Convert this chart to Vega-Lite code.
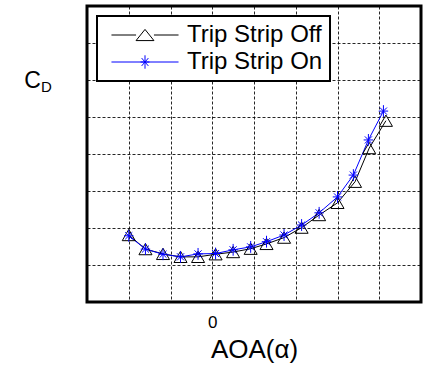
{
  "$schema": "https://vega.github.io/schema/vega-lite/v6.json",
  "width": 334,
  "height": 296,
  "autosize": {"type": "none"},
  "padding": {"left": 87, "top": 6, "right": 3, "bottom": 65},
  "config": {
    "view": {"stroke": "black", "strokeWidth": 3},
    "font": "Liberation Sans",
    "axis": {"gridColor": "#000000", "gridDash": [3, 2], "gridWidth": 1, "gridOpacity": 0.85, "domain": false, "tickSize": 0, "ticks": false}
  },
  "data": {
    "values": [
      {"series": "Trip Strip Off", "aoa": -10, "cd": 1.81},
      {"series": "Trip Strip Off", "aoa": -8, "cd": 1.43},
      {"series": "Trip Strip Off", "aoa": -5.9, "cd": 1.3},
      {"series": "Trip Strip Off", "aoa": -3.8, "cd": 1.22},
      {"series": "Trip Strip Off", "aoa": -1.7, "cd": 1.22},
      {"series": "Trip Strip Off", "aoa": 0.4, "cd": 1.29},
      {"series": "Trip Strip Off", "aoa": 2.5, "cd": 1.35},
      {"series": "Trip Strip Off", "aoa": 4.6, "cd": 1.44},
      {"series": "Trip Strip Off", "aoa": 6.5, "cd": 1.57},
      {"series": "Trip Strip Off", "aoa": 8.6, "cd": 1.74},
      {"series": "Trip Strip Off", "aoa": 10.7, "cd": 2.01},
      {"series": "Trip Strip Off", "aoa": 12.8, "cd": 2.35},
      {"series": "Trip Strip Off", "aoa": 15.0, "cd": 2.68},
      {"series": "Trip Strip Off", "aoa": 17.1, "cd": 3.25},
      {"series": "Trip Strip Off", "aoa": 18.8, "cd": 4.16},
      {"series": "Trip Strip Off", "aoa": 20.8, "cd": 4.9},
      {"series": "Trip Strip On", "aoa": -10, "cd": 1.79},
      {"series": "Trip Strip On", "aoa": -8, "cd": 1.43},
      {"series": "Trip Strip On", "aoa": -5.9, "cd": 1.29},
      {"series": "Trip Strip On", "aoa": -3.8, "cd": 1.22},
      {"series": "Trip Strip On", "aoa": -1.7, "cd": 1.3},
      {"series": "Trip Strip On", "aoa": 0.4, "cd": 1.31},
      {"series": "Trip Strip On", "aoa": 2.5, "cd": 1.41},
      {"series": "Trip Strip On", "aoa": 4.6, "cd": 1.49},
      {"series": "Trip Strip On", "aoa": 6.5, "cd": 1.63},
      {"series": "Trip Strip On", "aoa": 8.6, "cd": 1.81},
      {"series": "Trip Strip On", "aoa": 10.7, "cd": 2.08},
      {"series": "Trip Strip On", "aoa": 12.8, "cd": 2.41},
      {"series": "Trip Strip On", "aoa": 15.0, "cd": 2.84},
      {"series": "Trip Strip On", "aoa": 16.9, "cd": 3.43},
      {"series": "Trip Strip On", "aoa": 18.7, "cd": 4.38},
      {"series": "Trip Strip On", "aoa": 20.5, "cd": 5.16}
    ]
  },
  "layer": [
    {
      "mark": {"type": "line", "strokeWidth": 1},
      "encoding": {
        "x": {"field": "aoa", "type": "quantitative", "scale": {"domain": [-15, 25], "nice": false, "zero": false},
          "axis": {"values": [-10, -5, 0, 5, 10, 15, 20], "grid": true, "labelExpr": "datum.value === 0 ? '0' : ''", "labelFontSize": 17, "labelColor": "black", "labelBaseline": "alphabetic", "labelPadding": 25,
            "title": "AOA(α)", "titleFontSize": 26, "titleFontWeight": "normal", "titleColor": "black", "titleBaseline": "alphabetic", "titleY": 55}},
        "y": {"field": "cd", "type": "quantitative", "scale": {"domain": [0, 8], "nice": false, "zero": false},
          "axis": {"values": [1, 2, 3, 4, 5, 6, 7], "grid": true, "labels": false, "title": "C", "titleAngle": 0, "titleFontSize": 23, "titleFontWeight": "normal", "titleColor": "black", "titleAlign": "center", "titleBaseline": "alphabetic", "titleX": -55, "titleY": 81}},
        "color": {"field": "series", "type": "nominal", "scale": {"domain": ["Trip Strip Off", "Trip Strip On"], "range": ["#000000", "#0000ff"]},
          "legend": {"title": null, "orient": "top-left", "offset": 10, "fillColor": "white", "strokeColor": "black", "padding": 7, "rowPadding": 3, "labelFontSize": 24, "labelColor": "black", "labelFont": "Liberation Sans", "symbolSize": 500, "symbolStrokeWidth": 1, "symbolFillColor": "transparent", "symbolOffset": 29, "labelOffset": 30,
            "encode": {
              "symbols": {"update": {"shape": {"signal": "datum.value === 'Trip Strip Off' ? 'M-3,0L-0.8,0M0.8,0L3,0M0,-0.5L-0.8,0.5L0.8,0.5Z' : 'M-3,0L3,0M0,-0.6L0,0.6M-0.4,0L0.4,0M-0.3,-0.35L0.3,0.35M-0.3,0.35L0.3,-0.35'"}, "fill": {"value": "transparent"}, "strokeWidth": {"value": 1}}},
              "legend": {"update": {"strokeWidth": {"value": 2}}}
            }}}
      }
    },
    {
      "mark": {"type": "point", "filled": false, "strokeWidth": 1, "opacity": 1},
      "encoding": {
        "x": {"field": "aoa", "type": "quantitative"},
        "y": {"field": "cd", "type": "quantitative",
          "axis": {"orient": "left", "grid": false, "labels": false, "title": "D", "titleAngle": 0, "titleFontSize": 15, "titleFontWeight": "normal", "titleColor": "black", "titleAlign": "center", "titleBaseline": "alphabetic", "titleX": -41, "titleY": 85}},
        "stroke": {"condition": {"test": "datum.series === 'Trip Strip Off'", "value": "#000000"}, "value": "#0000ff"},
        "shape": {"condition": {"test": "datum.series === 'Trip Strip Off'", "value": "triangle-up"}, "value": "M0,-1L0,1M-0.8,0L0.8,0M-0.6,-0.6L0.6,0.6M-0.6,0.6L0.6,-0.6"},
        "size": {"condition": {"test": "datum.series === 'Trip Strip Off'", "value": 170}, "value": 140}
      }
    }
  ],
  "resolve": {"axis": {"y": "independent"}}
}
